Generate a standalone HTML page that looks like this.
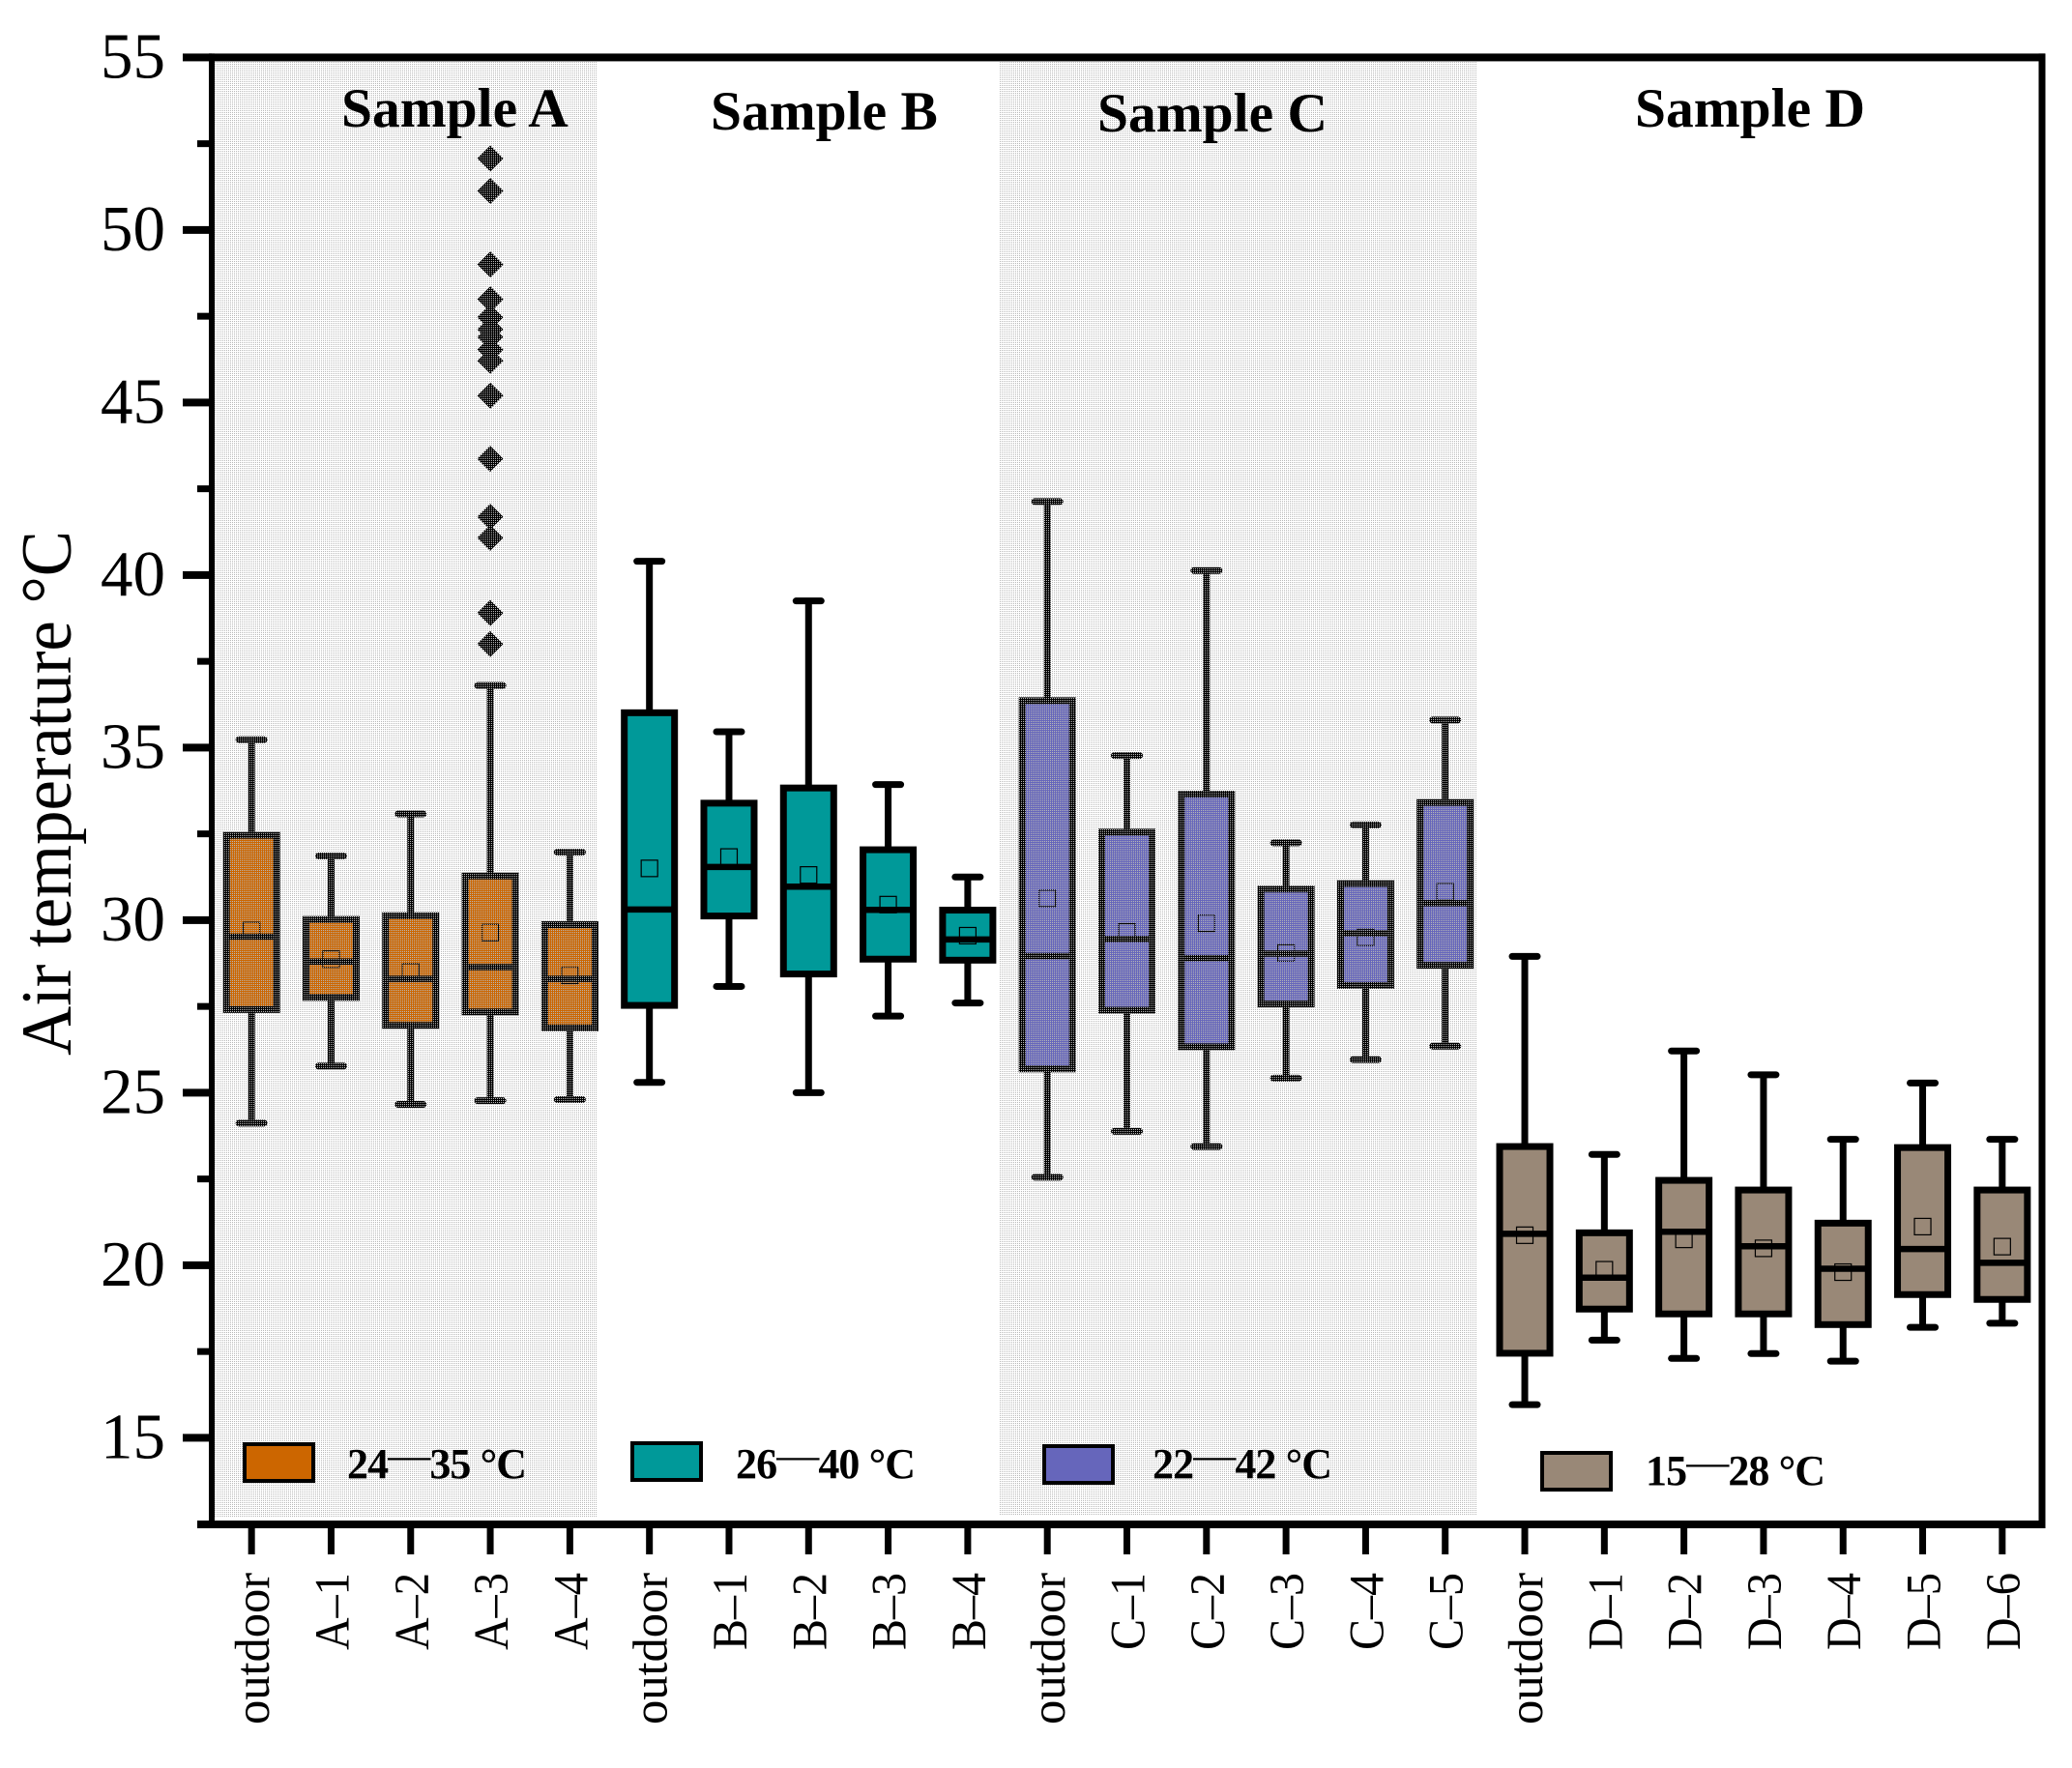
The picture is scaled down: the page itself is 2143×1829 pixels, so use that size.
<!DOCTYPE html>
<html>
<head>
<meta charset="utf-8">
<title>Air temperature box plot</title>
<style>
html,body{margin:0;padding:0;background:#fff;width:2143px;height:1829px;overflow:hidden}
svg{display:block}
text{font-family:"Liberation Serif","Noto Serif CJK SC",serif;fill:#000}
</style>
</head>
<body>
<svg id="chart" xmlns="http://www.w3.org/2000/svg" width="2143" height="1829" viewBox="0 0 2143 1829">
  <defs>
    <pattern id="stipple" patternUnits="userSpaceOnUse" width="2" height="2">
      <rect x="0" y="0" width="1" height="1" fill="#b8b8b8" shape-rendering="crispEdges"/>
    </pattern>
  </defs>
  <rect width="2143" height="1829" fill="#fff"/>
  <g id="marks"></g>
  <rect x="222" y="63" width="395" height="1506" fill="url(#stipple)"/>
  <rect x="1033" y="62" width="494" height="1505" fill="url(#stipple)"/>
  <g id="axes"></g>

  <text transform="translate(73 1092) rotate(-90)" font-size="74" textLength="543" lengthAdjust="spacingAndGlyphs">Air temperature °C</text>

  <text x="353" y="131" font-size="57.5" font-weight="bold">Sample A</text>
  <text x="735" y="134" font-size="57.5" font-weight="bold">Sample B</text>
  <text x="1135" y="136" font-size="57.5" font-weight="bold">Sample C</text>
  <text x="1691" y="131" font-size="57.5" font-weight="bold">Sample D</text>

  <g>
    <rect x="253" y="1494" width="71" height="38" fill="#cc6600" stroke="#000" stroke-width="4"/>
    <text x="359" y="1529" font-size="44" letter-spacing="-0.9" font-weight="bold">24<tspan font-weight="normal" dy="-9">—</tspan><tspan dy="9">35 °C</tspan></text>
    <rect x="654" y="1493" width="71" height="38" fill="#009999" stroke="#000" stroke-width="4"/>
    <text x="761" y="1529" font-size="44" letter-spacing="-0.9" font-weight="bold">26<tspan font-weight="normal" dy="-9">—</tspan><tspan dy="9">40 °C</tspan></text>
    <rect x="1080" y="1496" width="71" height="38" fill="#6666bb" stroke="#000" stroke-width="4"/>
    <text x="1192" y="1529" font-size="44" letter-spacing="-0.9" font-weight="bold">22<tspan font-weight="normal" dy="-9">—</tspan><tspan dy="9">42 °C</tspan></text>
    <rect x="1595" y="1503" width="71" height="38" fill="#998877" stroke="#000" stroke-width="4"/>
    <text x="1702" y="1536" font-size="44" letter-spacing="-0.9" font-weight="bold">15<tspan font-weight="normal" dy="-9">—</tspan><tspan dy="9">28 °C</tspan></text>
  </g>
</svg>
<script>
var categories = ["outdoor","A–1","A–2","A–3","A–4","outdoor","B–1","B–2","B–3","B–4","outdoor","C–1","C–2","C–3","C–4","C–5","outdoor","D–1","D–2","D–3","D–4","D–5","D–6"];
var groups = ["A","A","A","A","A","B","B","B","B","B","C","C","C","C","C","C","D","D","D","D","D","D","D"];
var groupColors = {A:"#cc6600",B:"#009999",C:"#6666bb",D:"#998877"};
var whiskerHigh = [35.23,31.86,33.08,36.8,31.97,40.4,35.46,39.25,33.93,31.25,42.13,34.77,40.13,32.24,32.76,35.8,28.95,23.21,26.21,25.52,23.65,25.28,23.65];
var q3 = [32.46,30.02,30.13,31.28,29.87,36.01,33.39,33.83,32.04,30.29,36.36,32.55,33.65,30.9,31.06,33.41,23.44,20.94,22.46,22.18,21.22,23.41,22.18];
var median = [29.52,28.8,28.3,28.64,28.3,30.31,31.54,30.97,30.3,29.44,28.96,29.45,28.9,29.03,29.62,30.49,20.91,19.64,20.97,20.55,19.9,20.47,20.07];
var q1 = [27.41,27.76,26.95,27.34,26.88,27.53,30.12,28.44,28.87,28.84,25.69,27.39,26.33,27.57,28.11,28.69,17.45,18.73,18.59,18.59,18.28,19.15,19.01];
var whiskerLow = [24.12,25.77,24.66,24.77,24.8,25.3,28.08,25.0,27.22,27.6,22.55,23.88,23.44,25.42,25.96,26.35,15.96,17.83,17.3,17.44,17.22,18.2,18.32];
var means = [29.7,28.87,28.5,29.64,28.4,31.5,31.83,31.31,30.45,29.55,30.63,29.66,29.91,29.05,29.5,30.82,20.87,19.87,20.75,20.49,19.8,21.12,20.54];
var outlierCategory = 3;
var outliers = [52.07,51.13,49.0,47.99,47.47,47.12,46.9,46.53,46.21,45.2,43.37,41.69,41.08,38.9,38.0];
var majorTicks = [15,20,25,30,35,40,45,50,55];
var minorTicks = [12.5,17.5,22.5,27.5,32.5,37.5,42.5,47.5,52.5];

var NS = "http://www.w3.org/2000/svg";
var LEFT = 219, RIGHT = 2112, TOP = 59.4, BOTTOM = 1577;
var STEP = (RIGHT - LEFT) / categories.length;
function xScale(i){ return LEFT + (i + 0.5) * STEP; }
function yScale(v){ return TOP + (55 - v) * 35.7; }

function make(parent, tag, attrs){
  var el = document.createElementNS(NS, tag);
  for (var k in attrs) el.setAttribute(k, attrs[k]);
  parent.appendChild(el);
  return el;
}

var marks = document.getElementById("marks");
var axes = document.getElementById("axes");

categories.forEach(function(cat, i){
  var cx = xScale(i);
  var g = make(marks, "g", {});
  
  

  var upper = make(g, "line", {x1:cx, x2:cx, y1:yScale(whiskerHigh[i]), y2:yScale(q3[i]), stroke:"#000", "stroke-width":7});
  
  

  var lower = make(g, "line", {x1:cx, x2:cx, y1:yScale(q1[i]), y2:yScale(whiskerLow[i]), stroke:"#000", "stroke-width":7});
  
  

  var capHigh = make(g, "line", {x1:cx-13, x2:cx+13, y1:yScale(whiskerHigh[i]), y2:yScale(whiskerHigh[i]), stroke:"#000", "stroke-width":7, "stroke-linecap":"round"});
  
  

  var capLow = make(g, "line", {x1:cx-13, x2:cx+13, y1:yScale(whiskerLow[i]), y2:yScale(whiskerLow[i]), stroke:"#000", "stroke-width":7, "stroke-linecap":"round"});
  
  

  var box = make(g, "rect", {x:cx-26, width:52, y:yScale(q3[i]), height:yScale(q1[i])-yScale(q3[i]), fill:groupColors[groups[i]], stroke:"#000", "stroke-width":7});
  
  

  var med = make(g, "line", {x1:cx-26, x2:cx+26, y1:yScale(median[i]), y2:yScale(median[i]), stroke:"#000", "stroke-width":6.5});
  
  

  var mean = make(g, "rect", {x:cx-8.5, y:yScale(means[i])-8.5, width:17, height:17, fill:"none", stroke:"#000", "stroke-width":1.2});
  
  
});

outliers.forEach(function(v){
  var cx = xScale(outlierCategory), cy = yScale(v), r = 13.5;
  var d = make(marks, "polygon", {points:[cx,cy-r,cx+r,cy,cx,cy+r,cx-r,cy].join(" "), fill:"#000"});
  
  
});

// Frame
var frameTop = make(axes, "rect", {x:LEFT-3, y:TOP-4, width:RIGHT-LEFT+6, height:8, fill:"#000"});


var frameRight = make(axes, "rect", {x:RIGHT-3.5, y:TOP-4, width:7, height:BOTTOM-TOP+8, fill:"#000"});


var frameLeft = make(axes, "rect", {x:LEFT-3, y:TOP-4, width:6, height:BOTTOM-TOP+8, fill:"#000"});


var frameBottom = make(axes, "rect", {x:LEFT-15, y:BOTTOM-4, width:RIGHT-LEFT+18.5, height:8, fill:"#000"});



majorTicks.forEach(function(v){
  var y = yScale(v);
  var t = make(axes, "rect", {x:189, y:y-4, width:LEFT-189, height:8, fill:"#000"});
  
  
  var label = make(axes, "text", {x:171, y:y+21, "text-anchor":"end", "font-size":67});
  
  
  label.textContent = String(v);
});

minorTicks.forEach(function(v){
  var y = yScale(v);
  var t = make(axes, "rect", {x:204, y:y-3.5, width:LEFT-204, height:7, fill:"#000"});
  
  
});

categories.forEach(function(cat, i){
  var cx = xScale(i);
  var t = make(axes, "rect", {x:cx-3.5, y:BOTTOM, width:7, height:31, fill:"#000"});
  
  
  var isOutdoor = cat === "outdoor";
  var label = make(axes, "text", {transform:"translate(" + (cx+18) + " 1627) rotate(-90)", "text-anchor":"end", "font-size":51, textLength:isOutdoor?157:80, lengthAdjust:"spacingAndGlyphs"});
  
  
  label.textContent = cat;
});
</script>
</body>
</html>
